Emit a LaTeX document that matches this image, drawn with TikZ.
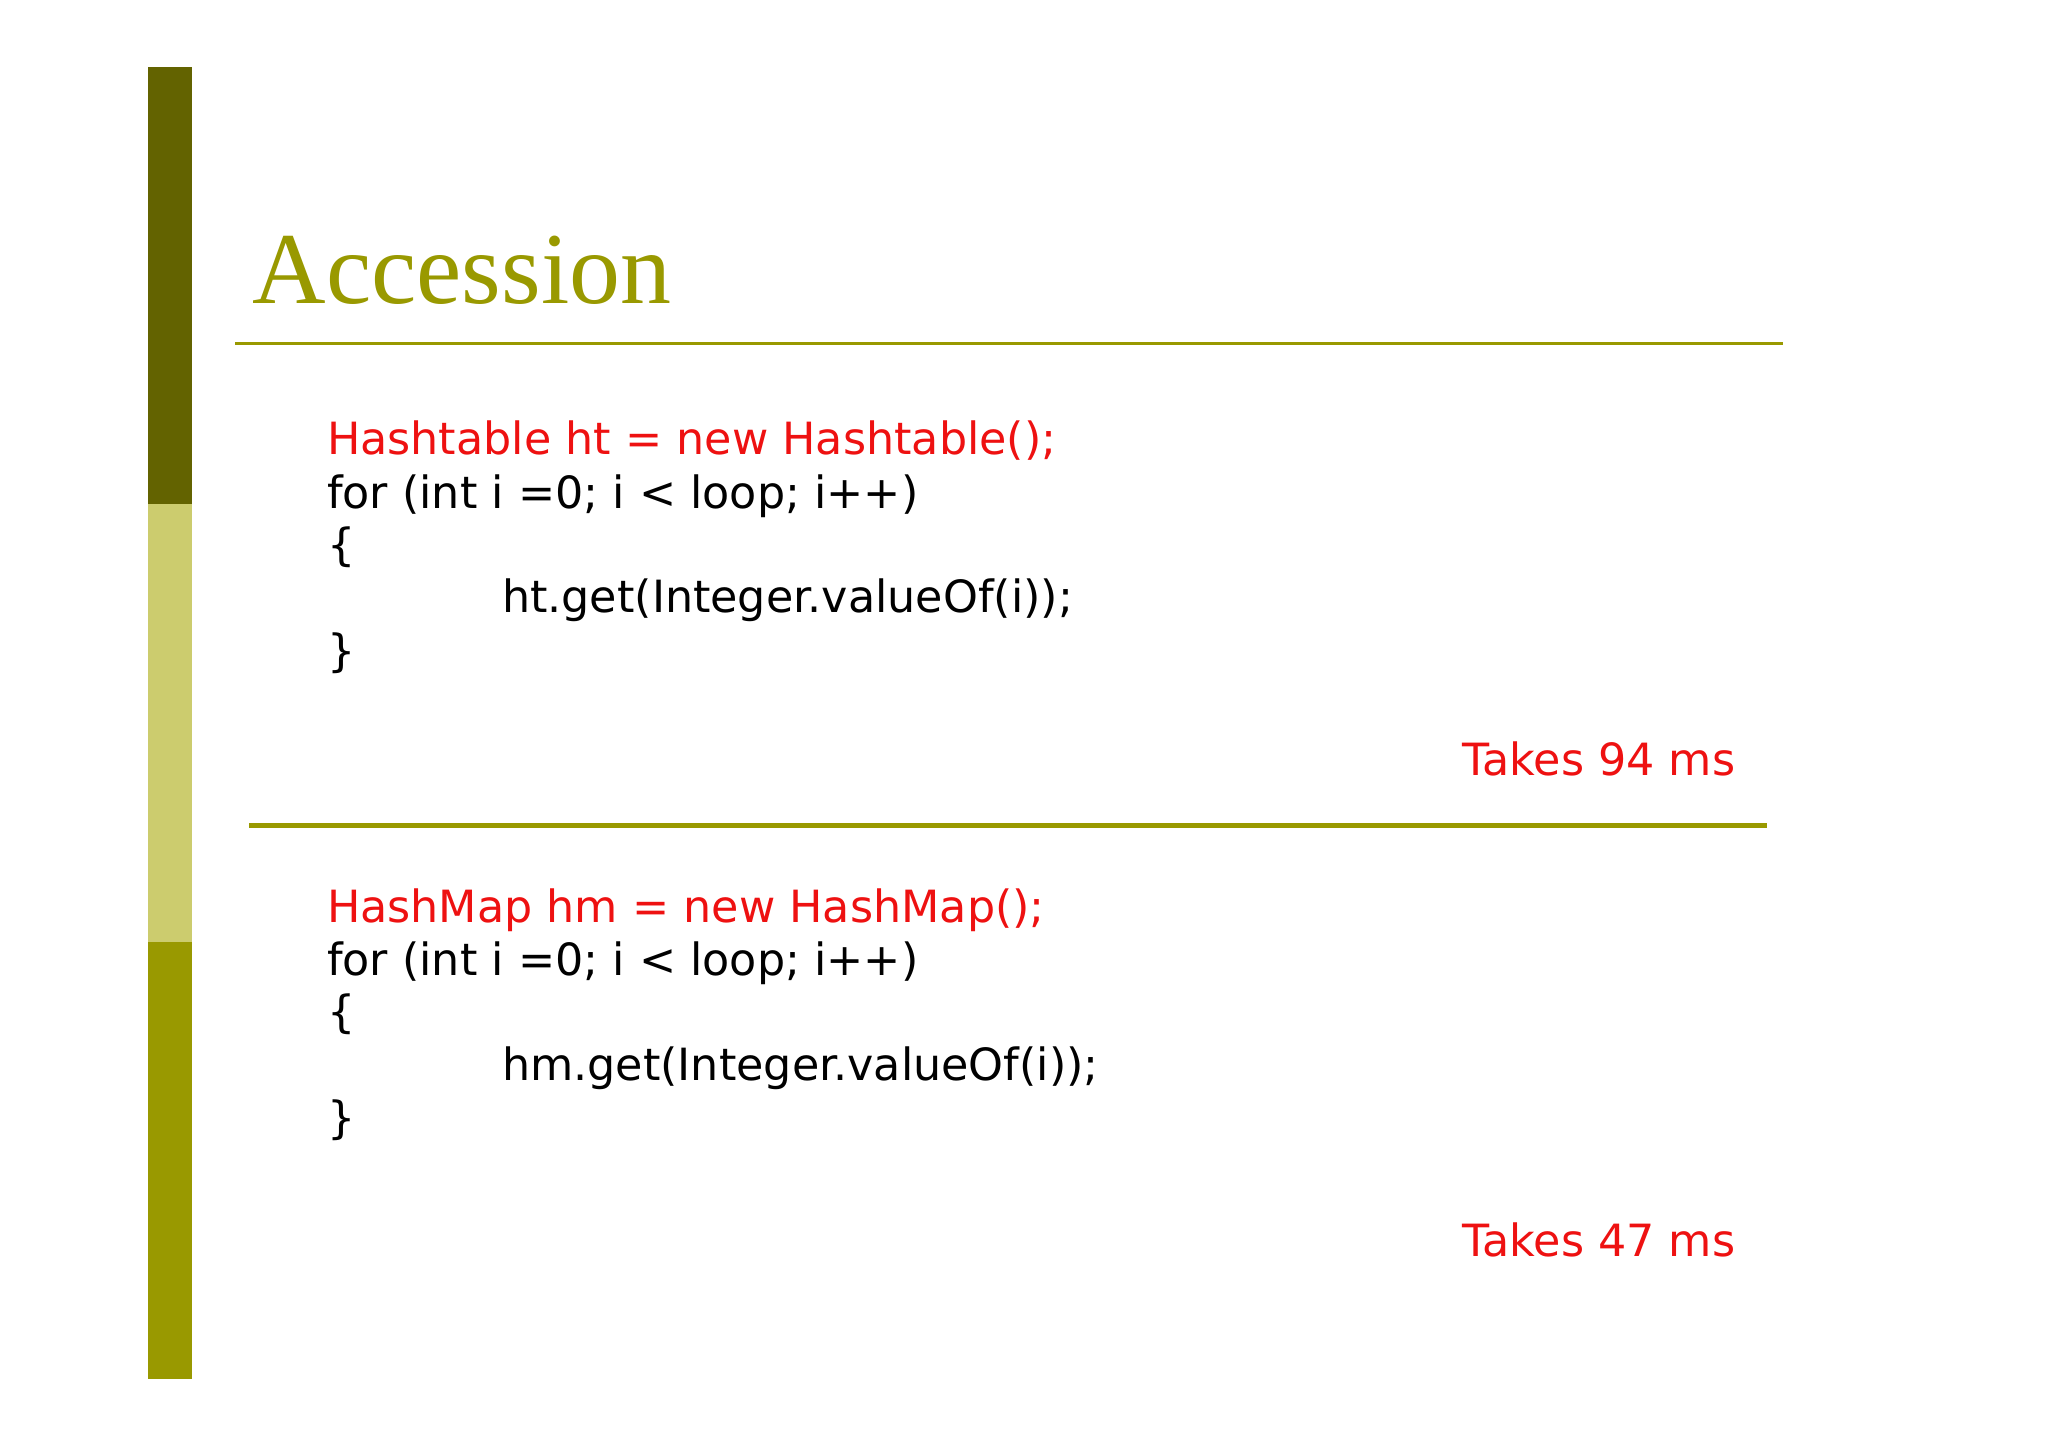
\documentclass[tikz,border=0pt]{standalone}
\usepackage{fontspec}
\setmainfont{DejaVu Sans}
\newfontfamily\titlefont{Liberation Serif}
\definecolor{olivedark}{HTML}{636300}
\definecolor{olivelight}{HTML}{CCCC6E}
\definecolor{olive}{HTML}{999900}
\definecolor{codered}{HTML}{EE1111}
\begin{document}
\begin{tikzpicture}[x=0.5pt,y=-0.5pt,
  code/.style={anchor=base west,inner sep=0pt,font=\fontsize{17}{20}\selectfont},
  red/.style={code,text=codered},
  takes/.style={anchor=base east,inner sep=0pt,text=codered,font=\fontsize{17}{20}\selectfont}]
\useasboundingbox[fill=white] (0,0) rectangle (1568,1108);
\fill[olivedark] (113,51) rectangle (147,386);
\fill[olivelight] (113,386) rectangle (147,721);
\fill[olive] (113,721) rectangle (147,1056);
\node[anchor=base west,inner sep=0pt,text=olive,font=\titlefont\fontsize{39}{44}\selectfont] (title) at (193,232) {Accession};
\draw[olive,line width=1pt] (180,263) -- (1365,263);
\draw[olive,line width=2pt] (191,632) -- (1353,632);
\node[red] (a1) at (250,348) {Hashtable ht = new Hashtable();};
\node[code] (a2) at (250,389) {for (int i =0; i < loop; i++)};
\node[code] (a3) at (250,429) {\{};
\node[code] (a4) at (384,469) {ht.get(Integer.valueOf(i));};
\node[code] (a5) at (250,510) {\}};
\node[takes] (t1) at (1329,594) {Takes 94 ms};
\node[red] (b1) at (250,706) {HashMap hm = new HashMap();};
\node[code] (b2) at (250,747) {for (int i =0; i < loop; i++)};
\node[code] (b3) at (250,787) {\{};
\node[code] (b4) at (384,827) {hm.get(Integer.valueOf(i));};
\node[code] (b5) at (250,868) {\}};
\node[takes] (t2) at (1329,962) {Takes 47 ms};
\end{tikzpicture}
\end{document}
